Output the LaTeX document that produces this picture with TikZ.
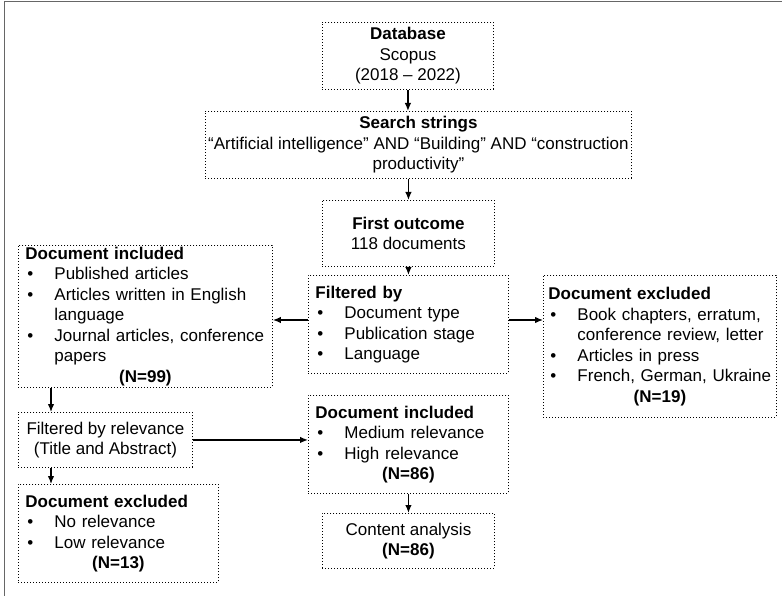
\documentclass[tikz,border=0pt]{standalone}
\usepackage{fontspec}
\setmainfont{Liberation Sans}
\usetikzlibrary{arrows.meta}
\newcommand{\bitem}[1]{\par\hangindent=29pt\hangafter=1\noindent\makebox[29pt][l]{\hspace{2pt}•}#1}
\newcommand{\ncount}[1]{\par{\centering\textbf{#1}\par}}
\newcommand{\lbrk}{\hfil\break}
\tikzset{
  box/.style={draw, line width=0.9pt, dash pattern=on 1pt off 2pt, inner xsep=7pt, inner ysep=0pt,
    anchor=north west, font=\fontsize{17}{20.5}\selectfont},
  cbox/.style={box, align=center},
  lbox/.style={box, align=left},
  arr/.style={line width=1.3pt, -{Latex[length=8pt,width=6.5pt]}},
  frame/.style={line width=1.5pt, black!60}
}
\begin{document}
\begin{tikzpicture}[x=1pt,y=-1pt]
\useasboundingbox (0,0) rectangle (782,596);
\draw[frame] (4.5,596) -- (4.5,1.5) -- (782,1.5);

\node[cbox, minimum width=171pt, minimum height=67pt] (db) at (322,22)
  {\textbf{Database}\\Scopus\\(2018 – 2022)};
\node[cbox, inner xsep=2pt, minimum width=426pt, minimum height=67pt] (ss) at (205,111)
  {\textbf{Search strings}\\“Artificial intelligence” AND “Building” AND “construction\\productivity”};
\node[cbox, minimum width=172pt, minimum height=66pt] (fo) at (322,200)
  {\textbf{First outcome}\\118 documents};
\node[lbox, text width=186pt, minimum height=98pt] (fb) at (308,275)
  {\textbf{Filtered by}\bitem{Document type}\bitem{Publication stage}\bitem{Language}};
\node[lbox, text width=240pt, minimum height=142pt] (dil) at (18,245)
  {\textbf{Document included}\bitem{Published articles}\bitem{Articles written in English\lbrk language}\bitem{Journal articles, conference\lbrk papers}\ncount{(N=99)}};
\node[lbox, inner xsep=5pt, text width=223pt, minimum height=142pt] (der) at (543,275)
  {\textbf{Document excluded}\bitem{\mbox{Book chapters, erratum,}\lbrk\mbox{conference review, letter}}\bitem{Articles in press}\bitem{\mbox{French, German, Ukraine}}\ncount{(N=19)}};
\node[cbox, minimum width=174pt, minimum height=55pt] (fr) at (18,412)
  {Filtered by relevance\\(Title and Abstract)};
\node[lbox, text width=186pt, minimum height=98pt] (dim) at (308,395)
  {\textbf{Document included}\bitem{Medium relevance}\bitem{High relevance}\ncount{(N=86)}};
\node[lbox, text width=186pt, minimum height=98pt] (del) at (18,484)
  {\textbf{Document excluded}\bitem{No relevance}\bitem{Low relevance}\ncount{(N=13)}};
\node[cbox, minimum width=172pt, minimum height=55pt] (ca) at (322,513)
  {Content analysis\\\textbf{(N=86)}};

\coordinate (y320) at (0,320);
\coordinate (x51) at (51,0);
\draw[arr] (db.south) -- (db.south |- ss.north);
\draw[arr] (fo.north |- ss.south) -- (fo.north);
\draw[arr] (fo.south) -- (fb.north);
\draw[arr] (fb.west |- y320) -- (dil.east |- y320);
\draw[arr] (fb.east |- y320) -- (der.west |- y320);
\draw[arr] (dil.south -| x51) -- (fr.north -| x51);
\draw[arr] (fr.south -| x51) -- (del.north -| x51);
\draw[arr] (fr.east) -- (fr.east -| dim.west);
\draw[arr] (dim.south) -- (ca.north);
\end{tikzpicture}
\end{document}
